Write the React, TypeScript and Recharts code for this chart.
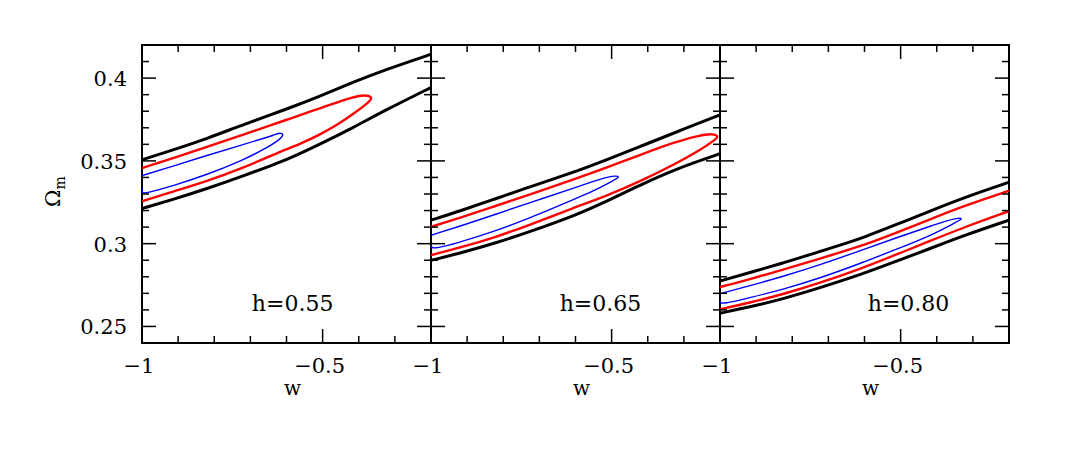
import React from 'react';
import { ScatterChart, Scatter, XAxis, YAxis, ReferenceArea, ReferenceDot } from 'recharts';

type P = [number, number];

// ---- tick values ----
const xTicks = [-1, -0.9, -0.8, -0.7, -0.6, -0.5, -0.4, -0.3, -0.2];
const xMajor = [-1, -0.5];
const xTickLabels: Record<string, string> = { '-1': '\u22121', '-0.5': '\u22120.5' };
const yTicks = [0.24, 0.25, 0.26, 0.27, 0.28, 0.29, 0.3, 0.31, 0.32, 0.33, 0.34, 0.35, 0.36, 0.37, 0.38, 0.39, 0.4, 0.41, 0.42];
const yMajor = [0.25, 0.3, 0.35, 0.4];
const yTickLabels: Record<string, string> = { '0.25': '0.25', '0.3': '0.3', '0.35': '0.35', '0.4': '0.4' };
const panelLabels = ['h=0.55', 'h=0.65', 'h=0.80'];
const panelLabelW = [-0.583, -0.531, -0.478];
const panelLabelOm = 0.2592;

// ---- panel 1 (h=0.55) ----
const p1BlackUpper: P[] = [[-1, 0.3507], [-0.913, 0.3567], [-0.82, 0.3635], [-0.728, 0.3712], [-0.635, 0.3785], [-0.589, 0.3822], [-0.51, 0.3889], [-0.418, 0.3973], [-0.325, 0.4052], [-0.2, 0.4144]];
const p1BlackLower: P[] = [[-1, 0.3212], [-0.913, 0.3268], [-0.82, 0.3332], [-0.728, 0.3402], [-0.635, 0.3478], [-0.589, 0.3517], [-0.51, 0.3598], [-0.418, 0.3698], [-0.325, 0.3808], [-0.2, 0.3943]];
const p1Red: P[] = [[-1, 0.3457], [-0.913, 0.3517], [-0.82, 0.3585], [-0.728, 0.3652], [-0.635, 0.3722], [-0.589, 0.3756], [-0.51, 0.3816], [-0.441, 0.3868], [-0.4, 0.3894], [-0.375, 0.3897], [-0.362, 0.388], [-0.372, 0.3855], [-0.418, 0.3778], [-0.464, 0.3712], [-0.51, 0.3656], [-0.557, 0.3608], [-0.603, 0.3568], [-0.635, 0.3538], [-0.728, 0.3451], [-0.82, 0.3378], [-0.913, 0.3316], [-1, 0.3256]];
const p1Blue: P[] = [[-1, 0.3411], [-0.913, 0.3469], [-0.82, 0.3533], [-0.728, 0.3594], [-0.66, 0.3638], [-0.635, 0.3656], [-0.622, 0.3668], [-0.612, 0.3666], [-0.609, 0.3655], [-0.617, 0.3632], [-0.654, 0.3578], [-0.728, 0.3497], [-0.82, 0.3417], [-0.913, 0.3350], [-0.987, 0.3306], [-1, 0.3302], [-1, 0.334]];

// ---- panel 2 (h=0.65) ----
const p2BlackUpper: P[] = [[-1, 0.3142], [-0.916, 0.3200], [-0.823, 0.3270], [-0.731, 0.3340], [-0.638, 0.3408], [-0.606, 0.3431], [-0.513, 0.3507], [-0.42, 0.3588], [-0.328, 0.3668], [-0.2, 0.3778]];
const p2BlackLower: P[] = [[-1, 0.2899], [-0.916, 0.2945], [-0.823, 0.3003], [-0.731, 0.3068], [-0.592, 0.3178], [-0.513, 0.3256], [-0.42, 0.3355], [-0.328, 0.3447], [-0.2, 0.3543]];
const p2Red: P[] = [[-1, 0.3102], [-0.916, 0.3158], [-0.823, 0.3226], [-0.731, 0.3294], [-0.606, 0.3387], [-0.513, 0.3460], [-0.42, 0.3537], [-0.328, 0.3612], [-0.254, 0.3656], [-0.22, 0.3664], [-0.203, 0.365], [-0.215, 0.3625], [-0.254, 0.3567], [-0.328, 0.3477], [-0.42, 0.3377], [-0.513, 0.3290], [-0.606, 0.3216], [-0.731, 0.3110], [-0.823, 0.3038], [-0.916, 0.2978], [-1, 0.2931]];
const p2Blue: P[] = [[-1, 0.3051], [-0.916, 0.3108], [-0.823, 0.3176], [-0.731, 0.3244], [-0.606, 0.3335], [-0.55, 0.3377], [-0.51, 0.3403], [-0.487, 0.3411], [-0.478, 0.3402], [-0.494, 0.3383], [-0.55, 0.3318], [-0.606, 0.3266], [-0.731, 0.3150], [-0.823, 0.3076], [-0.916, 0.3012], [-1, 0.2961], [-1, 0.2995]];

// ---- panel 3 (h=0.80) ----
const p3BlackUpper: P[] = [[-1, 0.2774], [-0.916, 0.2826], [-0.823, 0.2885], [-0.731, 0.2947], [-0.638, 0.3012], [-0.606, 0.3035], [-0.513, 0.3114], [-0.42, 0.3196], [-0.328, 0.3276], [-0.2, 0.3371]];
const p3BlackLower: P[] = [[-1, 0.258], [-0.916, 0.2618], [-0.823, 0.2668], [-0.731, 0.2728], [-0.606, 0.2816], [-0.513, 0.2893], [-0.42, 0.2969], [-0.328, 0.3047], [-0.2, 0.3142]];
const p3RedUpper: P[] = [[-1, 0.2738], [-0.916, 0.2786], [-0.823, 0.2845], [-0.731, 0.2905], [-0.606, 0.2987], [-0.513, 0.3065], [-0.42, 0.3146], [-0.328, 0.3226], [-0.2, 0.332]];
const p3RedLower: P[] = [[-1, 0.2604], [-0.916, 0.2644], [-0.823, 0.2696], [-0.731, 0.2757], [-0.606, 0.2852], [-0.513, 0.2933], [-0.42, 0.3015], [-0.328, 0.3096], [-0.2, 0.3196]];
const p3Blue: P[] = [[-1, 0.2698], [-0.916, 0.2746], [-0.823, 0.2804], [-0.731, 0.2866], [-0.606, 0.2962], [-0.513, 0.3035], [-0.42, 0.3104], [-0.365, 0.3144], [-0.338, 0.3156], [-0.328, 0.315], [-0.346, 0.313], [-0.42, 0.3045], [-0.513, 0.2965], [-0.606, 0.2885], [-0.731, 0.2786], [-0.823, 0.2726], [-0.916, 0.2674], [-1, 0.263], [-1, 0.2655]];

const BLACK = '#000000';
const RED = '#ff0000';
const BLUE = '#0000ff';
const styleOf: Record<string, { color: string; width: number }> = {
  black: { color: BLACK, width: 3 },
  red: { color: RED, width: 2.4 },
  blue: { color: BLUE, width: 1.4 },
};

const panelSeries: { kind: string; pts: P[] }[][] = [
  [{ kind: 'black', pts: p1BlackUpper }, { kind: 'black', pts: p1BlackLower }, { kind: 'red', pts: p1Red }, { kind: 'blue', pts: p1Blue }],
  [{ kind: 'black', pts: p2BlackUpper }, { kind: 'black', pts: p2BlackLower }, { kind: 'red', pts: p2Red }, { kind: 'blue', pts: p2Blue }],
  [{ kind: 'black', pts: p3BlackUpper }, { kind: 'black', pts: p3BlackLower }, { kind: 'red', pts: p3RedUpper }, { kind: 'red', pts: p3RedLower }, { kind: 'blue', pts: p3Blue }],
];

// ---- layout ----
const W = 1066;
const H = 457;
const TOP = 45;
const BOTTOM = 343;
const panelEdges: [number, number][] = [[142, 431], [431, 720], [720, 1009]];
const PH = BOTTOM - TOP;
const FONT = 'DejaVu Serif';
const AX = 1; // axis thickness used for layout (must be > 0 for axes to render)

const isIn = (arr: number[], v: number) => arr.some((a) => Math.abs(a - v) < 1e-9);
const toPts = (a: P[]) => a.map(([w, om]) => ({ w, om }));
const NoShape = () => <g />;

const makeXTick = () => (props: any) => {
  const { x, payload } = props;
  const y = BOTTOM;
  const major = isIn(xMajor, payload.value);
  const len = major ? 14 : 7;
  const key = String(payload.value);
  return (
    <g>
      <line x1={x} y1={y} x2={x} y2={y - len} stroke="#000" strokeWidth={1.5} />
      <line x1={x} y1={y - PH} x2={x} y2={y - PH + len} stroke="#000" strokeWidth={1.5} />
      {major && xTickLabels[key] && (
        <text x={x - 3} y={y + 30} textAnchor="middle" fontFamily={FONT} fontSize={21} fill="#000">
          {xTickLabels[key]}
        </text>
      )}
    </g>
  );
};

const makeYTick = (l: number, pw: number, showLabels: boolean) => (props: any) => {
  const { y, payload } = props;
  const x = l;
  const major = isIn(yMajor, payload.value);
  const len = major ? 14 : 7;
  const key = String(payload.value);
  return (
    <g>
      <line x1={x} y1={y} x2={x + len} y2={y} stroke="#000" strokeWidth={1.5} />
      <line x1={x + pw} y1={y} x2={x + pw - len} y2={y} stroke="#000" strokeWidth={1.5} />
      {showLabels && major && yTickLabels[key] && (
        <text x={x - 15} y={y + 8} textAnchor="end" fontFamily={FONT} fontSize={21} fill="#000">
          {yTickLabels[key]}
        </text>
      )}
    </g>
  );
};

const makeWLabel = (l: number, r: number) => () => (
  <text x={(l + r) / 2 + 6} y={BOTTOM + 52} textAnchor="middle" fontFamily={FONT} fontSize={20} fill="#000">
    w
  </text>
);

const omLabel = () => {
  const cx = 60;
  const cy = 207;
  return (
    <text transform={`translate(${cx},${cy}) rotate(-90)`} fontFamily={FONT} fontSize={21} fill="#000">
      <tspan>Ω</tspan>
      <tspan fontSize={14} dy={5}>m</tspan>
    </text>
  );
};

const hLabel = (text: string) => (props: any) => {
  const vb = props.viewBox || {};
  return (
    <text x={vb.x} y={vb.y} textAnchor="middle" fontFamily={FONT} fontSize={22} fill="#000">
      {text}
    </text>
  );
};

function Panel({ idx }: { idx: number }) {
  const [l, r] = panelEdges[idx];
  const pw = r - l;
  return (
    <div style={{ position: 'absolute', left: 0, top: 0, width: W, height: H }}>
      <ScatterChart width={W} height={H} margin={{ top: TOP, bottom: H - BOTTOM - AX, left: l - AX, right: W - r }}>
        <XAxis
          type="number"
          dataKey="w"
          domain={[-1, -0.2]}
          allowDataOverflow
          ticks={xTicks}
          interval={0}
          tick={makeXTick()}
          tickLine={false}
          axisLine={false}
          height={AX}
          tickSize={0}
          tickMargin={0}
          label={makeWLabel(l, r)}
        />
        <YAxis
          type="number"
          dataKey="om"
          domain={[0.24, 0.42]}
          allowDataOverflow
          ticks={yTicks}
          interval={0}
          tick={makeYTick(l, pw, idx === 0)}
          tickLine={false}
          axisLine={false}
          width={AX}
          tickSize={0}
          tickMargin={0}
          label={idx === 0 ? omLabel : undefined}
        />
        {panelSeries[idx].map((s, i) => (
          <Scatter
            key={i}
            data={toPts(s.pts)}
            fill={styleOf[s.kind].color}
            line={{ stroke: styleOf[s.kind].color, strokeWidth: styleOf[s.kind].width, strokeLinejoin: 'round' }}
            lineJointType="basis"
            shape={NoShape}
            isAnimationActive={false}
          />
        ))}
        <ReferenceArea x1={-1} x2={-0.2} y1={0.24} y2={0.42} fill="none" fillOpacity={0} stroke="#000" strokeWidth={2} strokeOpacity={1} />
        <ReferenceDot x={panelLabelW[idx]} y={panelLabelOm} r={0} stroke="none" fill="none" label={hLabel(panelLabels[idx])} />
      </ScatterChart>
    </div>
  );
}

export default function App() {
  return (
    <div style={{ position: 'absolute', left: 0, top: 0, width: W, height: H, background: '#fff' }}>
      <Panel idx={0} />
      <Panel idx={1} />
      <Panel idx={2} />
    </div>
  );
}
